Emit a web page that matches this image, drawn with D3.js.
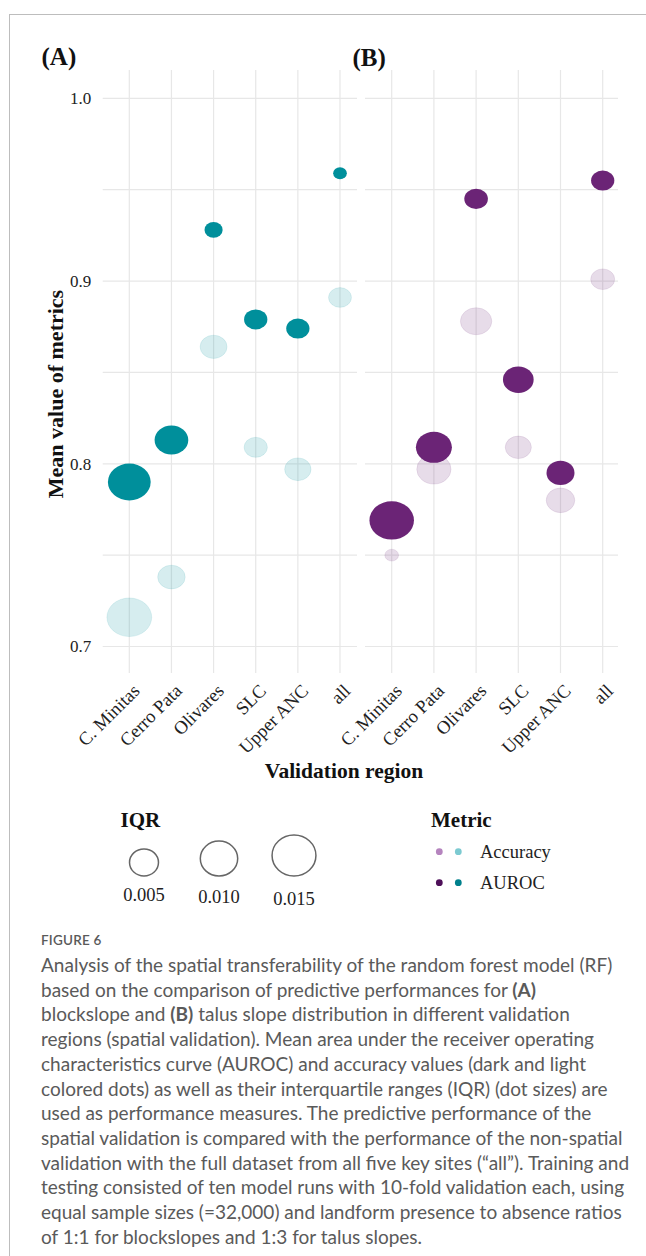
<!DOCTYPE html>
<html>
<head>
<meta charset="utf-8">
<script src="https://cdn.jsdelivr.net/npm/d3@7"></script>
<style>
  html, body { margin: 0; padding: 0; background: #fff; }
  svg { display: block; }
</style>
</head>
<body>
<svg id="fig" width="646" height="1256"></svg>
<script>
// ---- data -------------------------------------------------------------
const regions = ["C. Minitas", "Cerro Pata", "Olivares", "SLC", "Upper ANC", "all"];

// (A) blockslope
const aurocA    = [0.790, 0.813, 0.928, 0.879, 0.874, 0.959];
const aurocIqrA = [0.0115, 0.0061, 0.0008, 0.0020, 0.0020, 0.0002];
const accA      = [0.716, 0.738, 0.864, 0.809, 0.797, 0.891];
const accIqrA   = [0.0129, 0.0034, 0.0032, 0.0020, 0.0030, 0.0019];

// (B) talus slope
const aurocB    = [0.769, 0.809, 0.945, 0.846, 0.795, 0.955];
const aurocIqrB = [0.0127, 0.0073, 0.0021, 0.0047, 0.0036, 0.0020];
const accB      = [0.750, 0.797, 0.878, 0.809, 0.780, 0.901];
const accIqrB   = [0.0002, 0.0064, 0.0050, 0.0029, 0.0038, 0.0022];

const yMajor = [0.7, 0.8, 0.9, 1.0];
const yMinor = [0.75, 0.85, 0.95];
const iqrLegend = [0.005, 0.010, 0.015];
const iqrLegendLabels = ["0.005", "0.010", "0.015"];
const metricNames = ["Accuracy", "AUROC"];

// ---- setup ------------------------------------------------------------
const svg = d3.select("#fig");
const SERIF = "'Liberation Serif', 'Times New Roman', serif";
const SANS = "Lato, 'Open Sans', sans-serif";

svg.append("rect")
  .attr("x", 9.5).attr("y", 14.5)
  .attr("width", 700).attr("height", 1300)
  .attr("fill", "none").attr("stroke", "#bdbdbd").attr("stroke-width", 1);

const y = d3.scaleLinear().domain([0.6855, 1.0155]).range([673, 70]);
const size = d3.scaleSqrt().domain([0, 0.015]).range([4, 20.5]);
const squash = 1.16;   // dots are drawn slightly wider than tall
const gridColor = "#e7e7e7";

const panels = [
  { tag: "(A)", auroc: aurocA, aurocIqr: aurocIqrA, acc: accA, accIqr: accIqrA,
    x0: 102.7, x1: 357, p0: 129.3, p1: 340, col: "#008f9b", tagX: 41.5, tagY: 64.5 },
  { tag: "(B)", auroc: aurocB, aurocIqr: aurocIqrB, acc: accB, accIqr: accIqrB,
    x0: 365, x1: 618, p0: 391.7, p1: 602.7, col: "#6b2476", tagX: 352.5, tagY: 65.5 }
];

panels.forEach((p, pi) => {
  const x = d3.scalePoint().domain(regions).range([p.p0, p.p1]);
  const g = svg.append("g");

  // grid
  g.selectAll("line.h").data(yMajor.concat(yMinor)).join("line")
    .attr("x1", p.x0).attr("x2", p.x1)
    .attr("y1", d => y(d)).attr("y2", d => y(d))
    .attr("stroke", gridColor).attr("stroke-width", 1.2);
  g.selectAll("line.v").data(regions).join("line")
    .attr("x1", d => x(d)).attr("x2", d => x(d))
    .attr("y1", y.range()[1]).attr("y2", y.range()[0])
    .attr("stroke", gridColor).attr("stroke-width", 1.2);

  // accuracy (light) dots
  g.selectAll("ellipse.acc").data(regions).join("ellipse")
    .attr("cx", d => x(d))
    .attr("cy", (d, i) => y(p.acc[i]))
    .attr("ry", (d, i) => size(p.accIqr[i]))
    .attr("rx", (d, i) => size(p.accIqr[i]) * squash)
    .attr("fill", p.col).attr("fill-opacity", 0.16)
    .attr("stroke", p.col).attr("stroke-opacity", 0.1).attr("stroke-width", 1);

  // AUROC (dark) dots
  g.selectAll("ellipse.auc").data(regions).join("ellipse")
    .attr("cx", d => x(d))
    .attr("cy", (d, i) => y(p.auroc[i]))
    .attr("ry", (d, i) => size(p.aurocIqr[i]))
    .attr("rx", (d, i) => size(p.aurocIqr[i]) * squash)
    .attr("fill", p.col);

  // x axis labels
  const xa = svg.append("g").attr("transform", "translate(0,673)")
    .call(d3.axisBottom(x).tickSize(0));
  xa.select(".domain").remove();
  xa.selectAll("text")
    .attr("x", 0).attr("y", 0).attr("dy", 0)
    .attr("text-anchor", "end")
    .attr("transform", "translate(11,19) rotate(-45)")
    .attr("font-family", SERIF).attr("font-size", 18.5).attr("fill", "#222");

  // y axis labels (left panel only)
  if (pi === 0) {
    const ya = svg.append("g").attr("transform", `translate(${p.x0},0)`)
      .call(d3.axisLeft(y).tickValues(yMajor).tickFormat(d3.format(".1f")).tickSize(0).tickPadding(11.5));
    ya.select(".domain").remove();
    ya.selectAll("text").attr("font-family", SERIF).attr("font-size", 17).attr("fill", "#222");
  }

  // panel tag
  svg.append("text").attr("x", p.tagX).attr("y", p.tagY)
    .attr("font-family", SERIF).attr("font-weight", "bold").attr("font-size", 25)
    .attr("fill", "#111").text(p.tag);
});

// axis titles
svg.append("text")
  .attr("transform", "translate(63,394) rotate(-90)")
  .attr("text-anchor", "middle")
  .attr("font-family", SERIF).attr("font-weight", "bold").attr("font-size", 22)
  .attr("fill", "#111").text("Mean value of metrics");

svg.append("text")
  .attr("x", 344).attr("y", 778)
  .attr("text-anchor", "middle")
  .attr("font-family", SERIF).attr("font-weight", "bold").attr("font-size", 21.5)
  .attr("fill", "#111").text("Validation region");

// ---- legends ----------------------------------------------------------
const leg = svg.append("g");
leg.append("text").attr("x", 120.5).attr("y", 827)
  .attr("font-family", SERIF).attr("font-weight", "bold").attr("font-size", 21)
  .attr("fill", "#111").text("IQR");

const keyX = d3.scalePoint().domain(iqrLegendLabels).range([144, 294]);
const keyBottom = 876;
leg.selectAll("ellipse.key").data(iqrLegend).join("ellipse")
  .attr("cx", (d, i) => keyX(iqrLegendLabels[i]))
  .attr("cy", d => keyBottom - size(d))
  .attr("ry", d => size(d))
  .attr("rx", d => size(d) * 1.07)
  .attr("fill", "none").attr("stroke", "#666").attr("stroke-width", 1.5);
leg.selectAll("text.key").data(iqrLegendLabels).join("text")
  .attr("x", d => keyX(d))
  .attr("y", (d, i) => 901 + i * 2)
  .attr("text-anchor", "middle")
  .attr("font-family", SERIF).attr("font-size", 18.5).attr("fill", "#222")
  .text(d => d);

leg.append("text").attr("x", 431).attr("y", 827)
  .attr("font-family", SERIF).attr("font-weight", "bold").attr("font-size", 21)
  .attr("fill", "#111").text("Metric");

const keyColors = {
  Accuracy: ["#b584be", "#7ccad1"],
  AUROC: ["#4e1059", "#00808c"]
};
const rowY = d3.scalePoint().domain(metricNames).range([851.7, 882.7]);
metricNames.forEach(m => {
  keyColors[m].forEach((c, j) => {
    leg.append("circle").attr("cx", 439.3 + j * 19).attr("cy", rowY(m))
      .attr("r", 3.4).attr("fill", c);
  });
  leg.append("text").attr("x", 480).attr("y", rowY(m) + 6)
    .attr("font-family", SERIF).attr("font-size", 18.5).attr("fill", "#222")
    .text(m);
});

// ---- caption ----------------------------------------------------------
const cap = svg.append("g");
cap.append("text").attr("x", 41).attr("y", 945)
  .attr("font-family", SANS).attr("font-weight", 600).attr("font-size", 13.5)
  .attr("fill", "#5a5a5a").attr("letter-spacing", 0.2).text("FIGURE 6");

const captionLines = [
  [["Analysis of the spatial transferability of the random forest model (RF)", false]],
  [["based on the comparison of predictive performances for ", false], ["(A)", true]],
  [["blockslope and ", false], ["(B)", true], [" talus slope distribution in different validation", false]],
  [["regions (spatial validation). Mean area under the receiver operating", false]],
  [["characteristics curve (AUROC) and accuracy values (dark and light", false]],
  [["colored dots) as well as their interquartile ranges (IQR) (dot sizes) are", false]],
  [["used as performance measures. The predictive performance of the", false]],
  [["spatial validation is compared with the performance of the non-spatial", false]],
  [["validation with the full dataset from all five key sites (\u201call\u201d). Training and", false]],
  [["testing consisted of ten model runs with 10-fold validation each, using", false]],
  [["equal sample sizes (=32,000) and landform presence to absence ratios", false]],
  [["of 1:1 for blockslopes and 1:3 for talus slopes.", false]]
];

const capTexts = captionLines.map((segs, k) => {
  const t = cap.append("text").attr("x", 41).attr("y", 972 + k * 24.7)
    .attr("font-family", SANS).attr("font-size", 16).attr("fill", "#5a5a5a");
  segs.forEach(([s, b]) => {
    t.append("tspan").attr("font-weight", b ? 700 : 400).text(s);
  });
  return t;
});
// fit the caption block to the text column width
const firstW = capTexts[0].node().getComputedTextLength();
const fs = 16 * 572 / firstW;
capTexts.forEach(t => t.attr("font-size", fs));
</script>
</body>
</html>
